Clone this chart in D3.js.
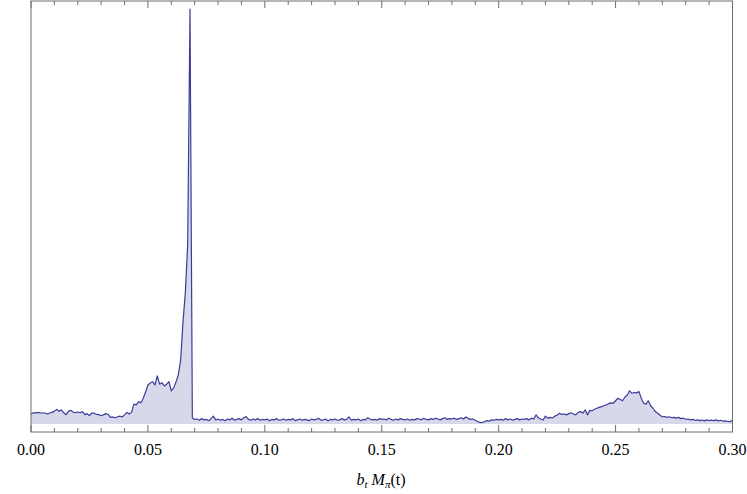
<!DOCTYPE html>
<html>
<head>
<meta charset="utf-8">
<script src="https://cdn.jsdelivr.net/npm/d3@7"></script>
<style>
  body { margin: 0; background: #fff; }
  text { font-family: "Liberation Serif", "Times New Roman", serif; }
</style>
</head>
<body>
<svg id="chart" width="747" height="494"></svg>
<script>
// spectrum sampled every 0.001 in b_t M_pi (arbitrary units, spike top = 100)
const gridStep = 0.001
const amplitude = [
  2.4, 2.7, 2.7, 2.8, 2.7, 2.65, 2.65, 2.4, 2.65, 2.8,
  3.1, 3.5, 3.05, 3.4, 2.7, 2.25, 3.05, 3.3, 2.9, 2.7,
  2.9, 2.7, 3.0, 2.25, 2.5, 2.0, 2.65, 2.6, 2.3, 2.25,
  2.0, 2.2, 2.5, 2.3, 1.6, 1.7, 1.5, 1.75, 1.9, 1.7,
  2.2, 2.8, 2.4, 2.8, 4.8, 4.6, 5.4, 5.1, 6.2, 7.7,
  9.4, 9.9, 10.2, 9.4, 11.6, 9.6, 9.95, 9.15, 9.6, 10.2,
  7.95, 8.7, 10.1, 11.8, 15.4, 24.6, 31.6, 43.1, 100, 1.45,
  1.1, 1.2, 0.9, 1.3, 1.0, 1.1, 0.8, 1.3, 1.9, 1.0,
  1.2, 0.9, 1.1, 0.8, 1.2, 1.0, 1.4, 0.9, 1.1, 1.3,
  1.0, 1.5, 1.8, 1.1, 0.9, 1.2, 1.0, 1.3, 0.9, 1.1,
  1.0, 1.2, 0.8, 1.1, 1.0, 1.3, 0.9, 1.0, 1.2, 0.9,
  1.1, 1.0, 1.3, 0.8, 1.0, 1.2, 0.9, 1.1, 1.0, 0.8,
  1.2, 1.0, 1.1, 1.4, 0.9, 1.0, 1.2, 0.8, 1.1, 1.0,
  1.2, 0.9, 1.0, 1.3, 1.0, 1.1, 1.7, 0.9, 1.1, 1.0,
  1.2, 0.8, 1.1, 1.0, 1.5, 1.2, 1.0, 1.1, 0.9, 1.3,
  1.1, 1.2, 1.0, 1.4, 1.1, 0.9, 1.2, 1.0, 1.3, 1.1,
  1.0, 1.2, 0.9, 1.1, 1.0, 1.3, 1.2, 1.0, 1.4, 1.1,
  1.0, 1.3, 1.1, 1.4, 1.2, 1.0, 1.3, 1.5, 1.1, 1.3,
  1.2, 1.4, 1.1, 1.3, 1.5, 1.2, 1.7, 1.3, 1.1, 1.2,
  0.9, 0.6, 0.4, 0.35, 0.6, 0.8, 0.7, 1.0, 0.9, 1.1,
  1.0, 1.1, 0.9, 1.3, 1.0, 1.2, 0.9, 1.1, 1.3, 1.0,
  1.2, 1.1, 1.3, 1.0, 1.4, 1.2, 2.2, 1.5, 1.2, 0.95,
  1.9, 1.4, 1.6, 1.45, 1.9, 2.1, 2.6, 2.3, 2.4, 2.2,
  2.5, 2.7, 2.4, 2.2, 2.8, 3.0, 2.6, 3.4, 2.2, 3.3,
  3.2, 3.55, 3.8, 4.0, 4.2, 4.4, 4.6, 4.9, 5.1, 5.0,
  5.6, 6.2, 5.9, 5.6, 6.5, 7.0, 8.0, 7.4, 7.6, 7.5,
  7.8, 6.2, 5.0, 4.8, 5.6, 4.4, 3.8, 3.0, 2.6, 2.1,
  1.75, 1.8, 1.6, 1.75, 1.5, 1.6, 1.4, 1.6, 1.3, 1.4,
  1.15, 1.2, 1.0, 1.1, 0.9, 1.0, 0.8, 0.95, 0.75, 1.0,
  0.85, 0.95, 0.8, 1.0, 0.75, 0.9, 0.7, 0.75, 0.6, 0.55,
  1.0
]

const xTicks = [0, 0.05, 0.1, 0.15, 0.2, 0.25, 0.3]
const xMinorTicks = d3.range(0, 0.3001, 0.01)

const lineColor = '#3d3d99'
const frameColor = '#6e6e6e'

function drawChart() {
  const svg = d3.select('#chart')
  const left = 31, right = 732.5, top = 1, bottom = 432

  const x = d3.scaleLinear().domain([0, 0.3]).range([left, right])
  const y = d3.scaleLinear().domain([0, 100]).range([424, 9])

  const points = amplitude.map((v, i) => ({ x: i * gridStep, y: v }))

  const area = d3.area()
    .x((d) => x(d.x))
    .y0(y(0))
    .y1((d) => y(d.y))

  const line = d3.line()
    .x((d) => x(d.x))
    .y((d) => y(d.y))

  svg.append('path')
    .datum(points)
    .attr('d', area)
    .attr('fill', lineColor)
    .attr('fill-opacity', 0.2)

  svg.append('path')
    .datum(points)
    .attr('d', line)
    .attr('fill', 'none')
    .attr('stroke', lineColor)
    .attr('stroke-width', 1.2)
    .attr('stroke-linejoin', 'round')

  // frame
  svg.append('rect')
    .attr('x', left)
    .attr('y', top)
    .attr('width', right - left)
    .attr('height', bottom - top)
    .attr('fill', 'none')
    .attr('stroke', frameColor)
    .attr('stroke-width', 1)

  // bottom and top ticks, pointing inward
  const isMajor = (t) => xTicks.some((m) => Math.abs(m - t) < 1e-6)
  const ticks = svg.append('g').attr('stroke', frameColor).attr('stroke-width', 1)
  xMinorTicks.forEach((t) => {
    const len = isMajor(t) ? 7 : 4
    ticks.append('line')
      .attr('x1', x(t)).attr('x2', x(t))
      .attr('y1', bottom).attr('y2', bottom - len)
    ticks.append('line')
      .attr('x1', x(t)).attr('x2', x(t))
      .attr('y1', top).attr('y2', top + len)
  })

  svg.append('g')
    .selectAll('text')
    .data(xTicks)
    .enter()
    .append('text')
    .attr('x', (d) => x(d))
    .attr('y', 455)
    .attr('text-anchor', 'middle')
    .attr('font-family', 'Liberation Serif')
    .attr('font-size', 16)
    .attr('fill', '#000')
    .text((d) => d3.format('.2f')(d))

  const label = svg.append('text')
    .attr('x', 381)
    .attr('y', 485)
    .attr('text-anchor', 'middle')
    .attr('font-family', 'Liberation Serif')
    .attr('font-size', 16)
    .attr('fill', '#000')
  label.append('tspan').attr('font-style', 'italic').text('b')
  label.append('tspan').attr('font-style', 'italic').attr('font-size', 11).attr('dy', 3).text('t')
  label.append('tspan').attr('font-style', 'italic').attr('dy', -3).text(' M')
  label.append('tspan').attr('font-style', 'italic').attr('font-size', 11).attr('dy', 3).text('π')
  label.append('tspan').attr('dy', -3).text('(t)')
}

drawChart()
</script>
</body>
</html>
